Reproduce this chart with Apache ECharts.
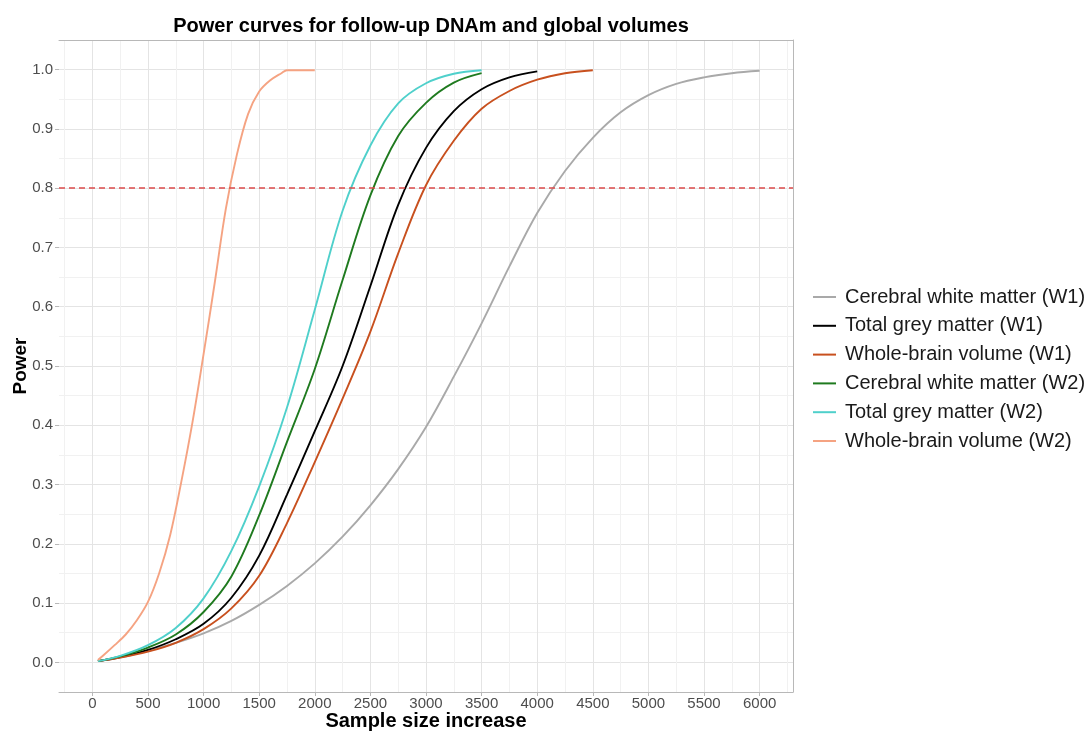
<!DOCTYPE html>
<html>
<head>
<meta charset="utf-8">
<script src="https://cdn.jsdelivr.net/npm/echarts@6/dist/echarts.min.js"></script>
<style>
html,body{margin:0;padding:0;background:#fff;}
#chart{width:1087px;height:731px;}
</style>
</head>
<body>
<div id="chart"></div>
<script>
// ---- data ----
const seriesNames = [
  'Cerebral white matter (W1)',
  'Total grey matter (W1)',
  'Whole-brain volume (W1)',
  'Cerebral white matter (W2)',
  'Total grey matter (W2)',
  'Whole-brain volume (W2)'
];
const seriesColors = ['#a9a9a9', '#000000', '#c8501e', '#1f7a1f', '#4fd0cb', '#f5a382'];

const xCwmW1 = [50,250,500,750,1000,1250,1500,1750,2000,2250,2500,2750,3000,3250,3500,3750,4000,4250,4500,4750,5000,5250,5500,5750,6000];
const yCwmW1 = [0.002,0.008,0.02,0.033,0.049,0.07,0.097,0.129,0.167,0.212,0.265,0.326,0.397,0.482,0.572,0.668,0.758,0.829,0.885,0.928,0.957,0.976,0.987,0.994,0.998];

const xTgmW1 = [50,250,500,750,1000,1250,1500,1750,2000,2250,2500,2750,3000,3250,3500,3750,4000];
const yTgmW1 = [0.002,0.009,0.021,0.039,0.065,0.109,0.18,0.283,0.39,0.50,0.635,0.772,0.868,0.93,0.967,0.987,0.997];

const xWbvW1 = [50,250,500,750,1000,1250,1500,1750,2000,2250,2500,2750,3000,3250,3500,3750,4000,4250,4500];
const yWbvW1 = [0.002,0.008,0.018,0.033,0.056,0.091,0.146,0.235,0.338,0.445,0.558,0.69,0.805,0.88,0.934,0.964,0.983,0.994,0.999];

const xCwmW2 = [50,250,500,750,1000,1250,1500,1750,2000,2250,2500,2750,3000,3250,3500];
const yCwmW2 = [0.002,0.010,0.025,0.047,0.085,0.145,0.248,0.372,0.495,0.645,0.788,0.888,0.944,0.978,0.994];

const xTgmW2 = [50,250,500,750,1000,1250,1500,1750,2000,2250,2500,2750,3000,3250,3500];
const yTgmW2 = [0.002,0.011,0.029,0.058,0.108,0.188,0.297,0.43,0.595,0.762,0.872,0.943,0.977,0.993,0.999];

const xWbvW2 = [50,100,200,300,400,500,600,700,800,900,1000,1100,1200,1300,1400,1500,1600,1700,1750,1800,1900,2000];
const yWbvW2 = [0.004,0.012,0.029,0.047,0.071,0.102,0.15,0.215,0.305,0.405,0.52,0.64,0.765,0.857,0.925,0.963,0.982,0.994,0.999,0.999,0.999,0.999];

const powerThreshold = 0.8;

const xMajorTicks = [0,500,1000,1500,2000,2500,3000,3500,4000,4500,5000,5500,6000];
const xMinorTicks = [-250,250,750,1250,1750,2250,2750,3250,3750,4250,4750,5250,5750,6250];
const yMajorTicks = [0,0.1,0.2,0.3,0.4,0.5,0.6,0.7,0.8,0.9,1.0];
const yMinorTicks = [0.05,0.15,0.25,0.35,0.45,0.55,0.65,0.75,0.85,0.95];

const xs = [xCwmW1, xTgmW1, xWbvW1, xCwmW2, xTgmW2, xWbvW2];
const ys = [yCwmW1, yTgmW1, yWbvW1, yCwmW2, yTgmW2, yWbvW2];

// ---- chart ----
const FONT = "'Liberation Sans', Arial, Helvetica, sans-serif";
const chart = echarts.init(document.getElementById('chart'), null, {renderer: 'canvas'});

const series = seriesNames.map((name, i) => ({
  name: name,
  type: 'line',
  xAxisIndex: 0,
  yAxisIndex: 0,
  data: xs[i].map((x, j) => [x, ys[i][j]]),
  showSymbol: false,
  symbol: 'none',
  smooth: 0.35,
  lineStyle: {color: seriesColors[i], width: 1.9},
  itemStyle: {color: seriesColors[i]},
  z: 3
}));

series[0].markLine = {
  silent: true,
  symbol: ['none', 'none'],
  label: {show: false},
  lineStyle: {color: '#dc4a4a', type: [6, 4], width: 1.5},
  data: [{yAxis: powerThreshold}],
  animation: false
};

chart.setOption({
  animation: false,
  backgroundColor: '#ffffff',
  title: {
    text: 'Power curves for follow-up DNAm and global volumes',
    left: 426,
    textAlign: 'center',
    top: 11,
    textStyle: {fontFamily: FONT, fontSize: 20, fontWeight: 'bold', color: '#000'}
  },
  grid: {left: 59, right: 294, top: 40, bottom: 39, containLabel: false, outerBoundsMode: 'none'},
  legend: {
    orient: 'vertical',
    left: 813,
    top: 287,
    padding: 0,
    icon: 'rect',
    itemWidth: 23,
    itemHeight: 2,
    itemGap: 8.8,
    data: seriesNames,
    textStyle: {fontFamily: FONT, fontSize: 20, color: '#1a1a1a', lineHeight: 20, padding: [0, 0, 0, 4]}
  },
  xAxis: [
    {
      type: 'value', min: -300, max: 6300, position: 'bottom',
      name: 'Sample size increase', nameLocation: 'middle', nameGap: 19, nameMoveOverlap: false,
      nameTextStyle: {fontFamily: FONT, fontSize: 20, fontWeight: 'bold', color: '#000'},
      axisLine: {show: true, onZero: false, lineStyle: {color: '#b8b8b8', width: 1}},
      axisTick: {show: true, length: 4, customValues: xMajorTicks, lineStyle: {color: '#b8b8b8'}},
      axisLabel: {customValues: xMajorTicks, formatter: v => String(v), fontFamily: FONT, fontSize: 15, color: '#4d4d4d', margin: 4},
      splitLine: {show: true, lineStyle: {color: '#e4e4e4', width: 1}}
    },
    {
      type: 'value', min: -300, max: 6300, position: 'top',
      axisLine: {show: true, onZero: false, lineStyle: {color: '#b8b8b8', width: 1}},
      axisTick: {show: false, customValues: xMinorTicks},
      axisLabel: {show: false},
      splitLine: {show: true, lineStyle: {color: '#f1f1f1', width: 1}}
    }
  ],
  yAxis: [
    {
      type: 'value', min: -0.05, max: 1.05, position: 'left',
      name: 'Power', nameLocation: 'middle', nameGap: 29, nameMoveOverlap: false,
      nameTextStyle: {fontFamily: FONT, fontSize: 19, fontWeight: 'bold', color: '#000'},
      axisLine: {show: false, onZero: false},
      axisTick: {show: true, length: 4, customValues: yMajorTicks, lineStyle: {color: '#b8b8b8'}},
      axisLabel: {customValues: yMajorTicks, formatter: v => v.toFixed(1), fontFamily: FONT, fontSize: 15, color: '#4d4d4d', margin: 6},
      splitLine: {show: true, lineStyle: {color: '#e4e4e4', width: 1}}
    },
    {
      type: 'value', min: -0.05, max: 1.05, position: 'right',
      axisLine: {show: true, onZero: false, lineStyle: {color: '#b8b8b8', width: 1}},
      axisTick: {show: false, customValues: yMinorTicks},
      axisLabel: {show: false},
      splitLine: {show: true, lineStyle: {color: '#f1f1f1', width: 1}}
    }
  ],
  series: series
});
</script>
</body>
</html>
